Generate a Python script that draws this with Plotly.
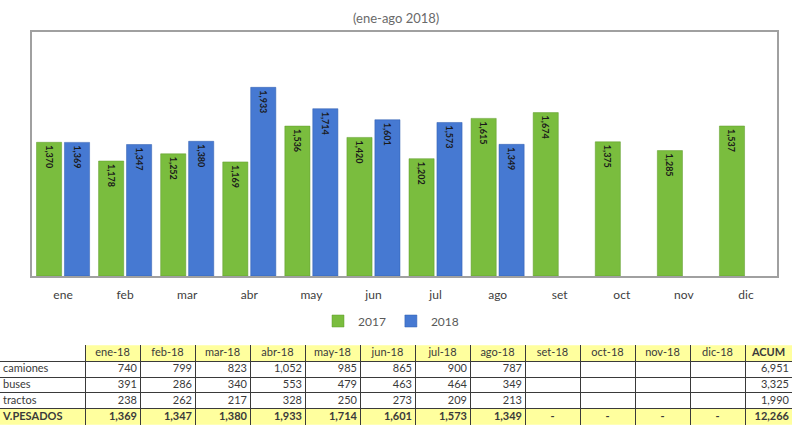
import plotly.graph_objects as go

months = ["ene", "feb", "mar", "abr", "may", "jun", "jul", "ago", "set", "oct", "nov", "dic"]
sales_2017 = [1370, 1178, 1252, 1169, 1536, 1420, 1202, 1615, 1674, 1375, 1285, 1537]
sales_2018 = [1369, 1347, 1380, 1933, 1714, 1601, 1573, 1349, None, None, None, None]

table_months = ["ene-18", "feb-18", "mar-18", "abr-18", "may-18", "jun-18", "jul-18",
                "ago-18", "set-18", "oct-18", "nov-18", "dic-18"]
row_labels = ["camiones", "buses", "tractos", "V.PESADOS"]
camiones = [740, 799, 823, 1052, 985, 865, 900, 787, None, None, None, None]
buses = [391, 286, 340, 553, 479, 463, 464, 349, None, None, None, None]
tractos = [238, 262, 217, 328, 250, 273, 209, 213, None, None, None, None]
acum = [6951, 3325, 1990, 12266]

GREEN = "#7abd3e"
BLUE = "#4679d2"
YELLOW = "#ffff9e"
FONT = "Lato"
TXT = "#3a3a3a"
GRID = "#3a3a3a"


def fmt(v):
    return "" if v is None else f"{v:,}"


fig = go.Figure()
for name, vals, col, lc in [("2017", sales_2017, GREEN, "#5f9a2a"),
                            ("2018", sales_2018, BLUE, "#2f5cae")]:
    fig.add_trace(go.Bar(
        x=months, y=vals, name=name,
        marker=dict(color=col, line=dict(color=lc, width=0.5)),
        text=[fmt(v) for v in vals], textposition="inside", insidetextanchor="end",
        textangle=90, constraintext="none",
        textfont=dict(family=FONT, size=9, color="#1a1a1a", weight="bold"),
        hoverinfo="x+y",
    ))

# ---- table drawn on a second pair of axes ----
col_widths = [85] + [55] * 12 + [47]
col_edges = [0]
for w in col_widths:
    col_edges.append(col_edges[-1] + w)
col_centers = [(col_edges[i] + col_edges[i + 1]) / 2 for i in range(len(col_widths))]
col_rights = [col_edges[i + 1] - 3 for i in range(len(col_widths))]

tfont = dict(family=FONT, size=11, color=TXT)
common = dict(xaxis="x2", yaxis="y2", mode="text", showlegend=False, hoverinfo="skip",
              cliponaxis=False, textfont=tfont)

# header
hdr_text = table_months + ["<b>ACUM</b>"]
fig.add_trace(go.Scatter(x=col_centers[1:], y=[0.5] * len(hdr_text), text=hdr_text,
                         textposition="middle center", **common))
# row labels
lbl_text = row_labels[:3] + ["<b>" + row_labels[3] + "</b>"]
fig.add_trace(go.Scatter(x=[3] * 4, y=[1.5, 2.5, 3.5, 4.5], text=lbl_text,
                         textposition="middle right", **common))
# numeric cells
nx, ny, nt = [], [], []
dx, dy, dt = [], [], []
for i in range(12):
    for r, series in enumerate([camiones, buses, tractos]):
        if series[i] is not None:
            nx.append(col_rights[i + 1]); ny.append(r + 1.5); nt.append(fmt(series[i]))
    if camiones[i] is not None:
        tot = camiones[i] + buses[i] + tractos[i]
        nx.append(col_rights[i + 1]); ny.append(4.5); nt.append("<b>" + fmt(tot) + "</b>")
    else:
        dx.append(col_centers[i + 1]); dy.append(4.5); dt.append("<b>-</b>")
for r, v in enumerate(acum):
    nx.append(col_rights[13]); ny.append(r + 1.5)
    nt.append("<b>" + fmt(v) + "</b>" if r == 3 else fmt(v))
fig.add_trace(go.Scatter(x=nx, y=ny, text=nt, textposition="middle left", **common))
fig.add_trace(go.Scatter(x=dx, y=dy, text=dt, textposition="middle center", **common))

shapes = [
    dict(type="rect", xref="x2", yref="y2", x0=col_edges[1], x1=col_edges[-1], y0=0, y1=1,
         fillcolor=YELLOW, line=dict(width=0), layer="below"),
    dict(type="rect", xref="x2", yref="y2", x0=col_edges[0], x1=col_edges[-1], y0=4, y1=5,
         fillcolor=YELLOW, line=dict(width=0), layer="below"),
    # hide the header top border above the label column
    dict(type="rect", xref="x2", yref="y2", x0=-2, x1=col_edges[1] - 1, y0=-0.2, y1=0.6,
         fillcolor="white", line=dict(width=0), layer="above"),
]

fig.update_layout(
    width=792, height=429,
    margin=dict(l=0, r=0, t=0, b=0),
    paper_bgcolor="white", plot_bgcolor="white",
    barmode="group", bargap=0.1, bargroupgap=0.1,
    font=dict(family=FONT, color="#595959"),
    showlegend=True,
    legend=dict(orientation="h", x=318 / 792, xanchor="left", y=1 - 321 / 429, yanchor="middle",
                font=dict(family=FONT, size=12, color="#595959"),
                itemwidth=30, bgcolor="rgba(0,0,0,0)"),
    xaxis=dict(domain=[32 / 792, 777 / 792], showline=True, linecolor="#a0a0a0", linewidth=2,
               mirror=True, ticks="outside", ticklen=7, tickcolor="rgba(0,0,0,0)",
               tickfont=dict(family=FONT, size=12, color="#404040"), showgrid=False),
    yaxis=dict(domain=[1 - 276 / 429, 1 - 32 / 429], range=[0, 2500], showline=True,
               linecolor="#a0a0a0", linewidth=2, mirror=True, showticklabels=False,
               showgrid=False, zeroline=False, ticks=""),
    xaxis2=dict(domain=[0, 1], anchor="y2", range=[0, 792], tickvals=col_edges[1:-1],
                showgrid=True, gridcolor=GRID, gridwidth=1, showticklabels=False,
                zeroline=False, showline=False, ticks="", fixedrange=True),
    yaxis2=dict(domain=[1 - 425 / 429, 1 - 345 / 429], anchor="x2", range=[5.02, -0.02],
                tickvals=[0, 1, 2, 3, 4, 5], showgrid=True, gridcolor=GRID, gridwidth=1,
                showticklabels=False, zeroline=False, showline=False, ticks="", fixedrange=True),
    shapes=shapes,
    annotations=[dict(text="(ene-ago 2018)", x=0.5, y=1 - 18 / 429, xref="paper", yref="paper",
                      xanchor="center", yanchor="middle", showarrow=False,
                      font=dict(family=FONT, size=13, color="#6a6a6a"))],
)

fig.write_html("out.html", config={"displayModeBar": False},
               post_script="document.body.style.margin='0px';document.body.style.padding='0px';")
